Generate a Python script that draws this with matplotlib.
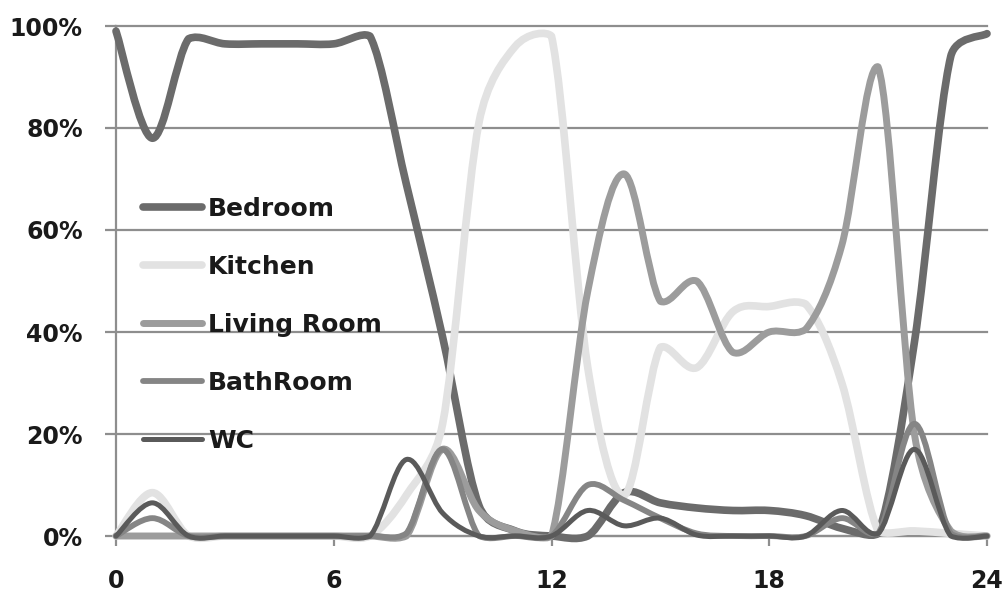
import math
import matplotlib
matplotlib.use("Agg")
import matplotlib.pyplot as plt
from matplotlib.path import Path
from matplotlib.patches import PathPatch
from matplotlib.lines import Line2D
from matplotlib.ticker import FuncFormatter

# ---- data (hourly share of presence, %) ----
hours = list(range(25))
bedroom = [99, 78, 97.5, 96.5, 96.5, 96.5, 96.5, 98, 69, 39, 6, 1, 0, 0, 8.5, 6.5,
           5.5, 5, 5, 4, 1.5, 0.5, 38, 94, 98.5]
kitchen = [0, 8.5, 0, 0, 0, 0, 0, 0, 8, 22, 81, 96, 98, 33, 8, 37,
           33, 44, 45, 45.5, 30, 1, 1, 0.5, 0]
living = [0, 0, 0, 0, 0, 0, 0, 0, 0, 17, 5, 1, 0, 48, 71, 46,
          50, 36, 40, 40.5, 57, 92, 20, 1, 0]
bathroom = [0, 3.5, 0, 0, 0, 0, 0, 0, 0.5, 17, 0, 0, 0, 10, 7, 3.5,
            0.5, 0, 0, 0, 3.5, 0.5, 22, 0.5, 0]
wc = [0, 6.5, 0, 0, 0, 0, 0, 0, 15, 4.5, 0, 0, 0, 5, 2, 3.5,
      0.2, 0, 0, 0, 5, 0.5, 17, 0, 0]

series_names = ["Bedroom", "Kitchen", "Living Room", "BathRoom", "WC"]
series_values = [bedroom, kitchen, living, bathroom, wc]
colors = ["#6b6b6b", "#e2e2e2", "#9c9c9c", "#858585", "#5a5a5a"]
widths = [5.5, 5.5, 5.0, 4.2, 3.6]

x_ticks = [0, 6, 12, 18, 24]
y_ticks = [0, 20, 40, 60, 80, 100]

GRID = "#8e8e8e"
TEXT = "#1a1a1a"

# pixel size of one hour / one percent, used only to shape the smoothing tangents
SX, SY = 871 / 24.0, 510 / 100.0


def smooth_path(xs, ys, margin=1.0):
    """Excel-like smoothed line drawn as cubic Bezier segments: Catmull-Rom
    control points, each limited to half the segment length (screen
    proportions) and kept close to the segment's value range."""
    n = len(xs)
    P = [(x * SX, y * SY) for x, y in zip(xs, ys)]
    verts = [(xs[0], ys[0])]
    codes = [Path.MOVETO]
    for i in range(n - 1):
        p0 = P[i - 1] if i > 0 else P[i]
        p1, p2 = P[i], P[i + 1]
        p3 = P[i + 2] if i + 2 < n else P[i + 1]
        half = math.hypot(p2[0] - p1[0], p2[1] - p1[1]) / 2.0
        v1 = [(p2[0] - p0[0]) / 6.0, (p2[1] - p0[1]) / 6.0]
        v2 = [(p3[0] - p1[0]) / 6.0, (p3[1] - p1[1]) / 6.0]
        for v in (v1, v2):
            d = math.hypot(v[0], v[1])
            if d > half and d > 0:
                v[0] *= half / d
                v[1] *= half / d
        c1 = [p1[0] + v1[0], p1[1] + v1[1]]
        c2 = [p2[0] - v2[0], p2[1] - v2[1]]
        lo = min(p1[1], p2[1]) - margin * SY
        hi = max(p1[1], p2[1]) + margin * SY
        for c in (c1, c2):
            c[1] = min(max(c[1], lo), hi)
        verts += [(c1[0] / SX, c1[1] / SY), (c2[0] / SX, c2[1] / SY),
                  (xs[i + 1], ys[i + 1])]
        codes += [Path.CURVE4] * 3
    return Path(verts, codes)


fig = plt.figure(figsize=(10.06, 5.92), dpi=100)
ax = fig.add_axes([116 / 1006, 56 / 592, 871 / 1006, 510 / 592])
ax.set_xlim(0, 24)
ax.set_ylim(0, 100)

handles = []
for name, vals, c, lw in zip(series_names, series_values, colors, widths):
    patch = PathPatch(smooth_path(hours, vals), facecolor="none", edgecolor=c,
                      linewidth=lw, capstyle="round", joinstyle="round",
                      transform=ax.transData, clip_on=False, zorder=3)
    ax.add_patch(patch)
    handles.append(Line2D([], [], color=c, linewidth=lw, solid_capstyle="round"))

ax.set_yticks(y_ticks)
ax.set_xticks(x_ticks)
ax.yaxis.set_major_formatter(FuncFormatter(lambda v, p: f"{int(v)}%"))
ax.yaxis.grid(True, color=GRID, linewidth=1.6)
for gl in ax.get_ygridlines():
    gl.set_clip_on(False)
ax.set_axisbelow(True)

for s in ["top", "right"]:
    ax.spines[s].set_visible(False)
for s in ["left", "bottom"]:
    ax.spines[s].set_color(GRID)
    ax.spines[s].set_linewidth(1.6)

ax.tick_params(axis="y", length=8, width=1.6, color=GRID, pad=16,
               labelsize=17, labelcolor=TEXT)
ax.tick_params(axis="x", length=7, width=1.6, color=GRID, pad=17,
               labelsize=17, labelcolor=TEXT)
for lab in ax.get_xticklabels() + ax.get_yticklabels():
    lab.set_fontweight("bold")

leg = ax.legend(handles, series_names, loc="upper left",
                bbox_to_anchor=(27 / 871, (536 - 197) / 510),
                frameon=False, borderpad=0, borderaxespad=0,
                handlelength=2.35, handletextpad=0.25, labelspacing=1.36,
                prop={"size": 18, "weight": "bold"})
for t in leg.get_texts():
    t.set_color(TEXT)

fig.savefig("out.png", dpi=100)
